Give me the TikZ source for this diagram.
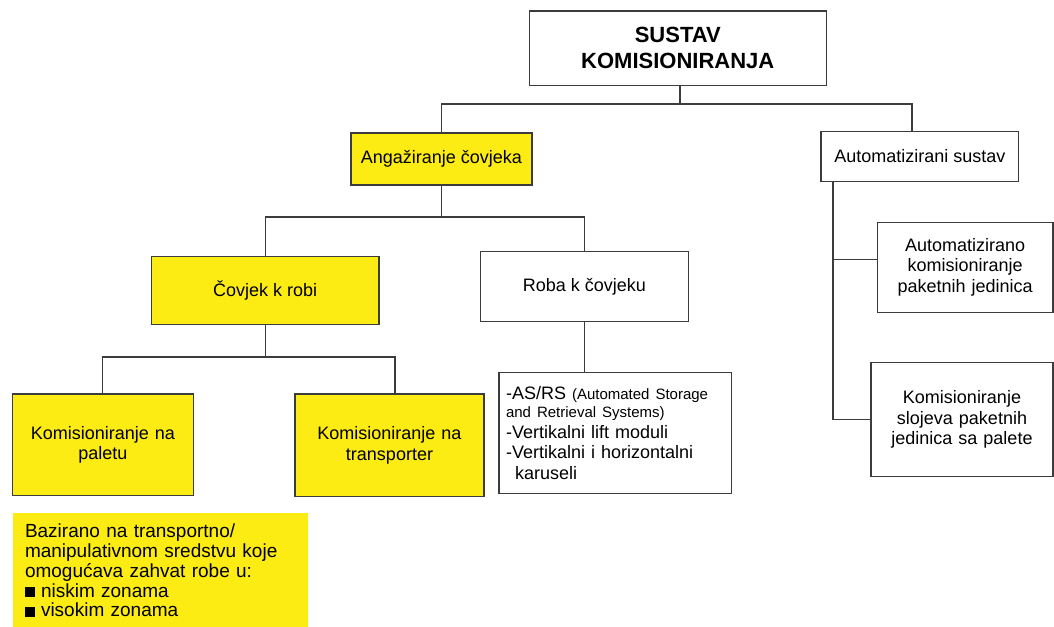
\documentclass[tikz,border=0pt]{standalone}
\usepackage{fontspec}
\setmainfont{Liberation Sans}
\definecolor{linec}{RGB}{60,60,60}
\definecolor{yel}{RGB}{252,236,20}
\newcommand{\fsmain}{\fontsize{18}{20.8}\selectfont}
\newcommand{\fssmall}{\fontsize{15}{18}\selectfont}
\begin{document}
\begin{tikzpicture}[x=1pt,y=-1pt,
  box/.style={draw=linec, line width=1.2pt, rectangle, inner sep=0pt, align=center, font=\fsmain},
  ybox/.style={box, fill=yel},
  conn/.style={draw=linec, line width=1.2pt}]
\useasboundingbox (0,0) rectangle (1054,626);

% nodes
\node[box, minimum width=297pt, minimum height=74.7pt, font=\bfseries\fontsize{22}{26}\selectfont] (top) at (677.8,48.35) {SUSTAV\\KOMISIONIRANJA};
\node[ybox, minimum width=181pt, minimum height=52pt] (ang) at (441.5,159) {Anga\v{z}iranje \v{c}ovjeka};
\node[box, minimum width=197.7pt, minimum height=50.4pt] (auto) at (919.85,156.5) {Automatizirani sustav};
\node[ybox, minimum width=227.6pt, minimum height=68.5pt] (cov) at (265.2,290.5) {\v{C}ovjek k robi};
\node[box, minimum width=207.9pt, minimum height=70pt] (roba) at (584.45,286.7) {Roba k \v{c}ovjeku};
\node[ybox, minimum width=181pt, minimum height=101.5pt, text width=175pt] (pal) at (102.8,444.75) {Komisioniranje na\\paletu};
\node[ybox, minimum width=189pt, minimum height=102.7pt, text width=183pt] (trans) at (389.5,445.35) {Komisioniranje na\\transporter};
\node[box, minimum width=232.6pt, minimum height=120.6pt, text width=218.6pt, align=left, inner xsep=7pt] (asrs) at (615.3,433)
  {-AS/RS {\fssmall (Automated Storage}\\[-2.5pt]{\fssmall and Retrieval Systems)}\\-Vertikalni lift moduli\\-Vertikalni i horizontalni\\\hspace*{9pt}karuseli};
\node[box, minimum width=175.6pt, minimum height=90pt, text width=170pt] (autopak) at (965.2,267.3) {Automatizirano\\komisioniranje\\paketnih jedinica};
\node[box, minimum width=182pt, minimum height=114.4pt, text width=176pt] (slojevi) at (962,419.5) {Komisioniranje\\slojeva paketnih\\jedinica sa palete};
\node[fill=yel, draw=none, rectangle, inner sep=0pt, minimum width=295pt, minimum height=114.3pt, text width=271pt, inner xsep=12pt, align=left, font=\fontsize{19}{19.8}\selectfont] (baz) at (160.5,570.5)
  {Bazirano na transportno/\\manipulativnom sredstvu koje\\omogu\'{c}ava zahvat robe u:\\\rule{10pt}{10pt}\hspace{6pt}niskim zonama\\\rule{10pt}{10pt}\hspace{6pt}visokim zonama};

% connectors
\coordinate (j1) at (680,104);
\coordinate (j1r) at (912,104);
\draw[conn] (top.south -| j1) -- (j1);
\draw[conn] (ang.north) |- (j1r) -- (j1r |- auto.north);

\coordinate (j2) at (0,217);
\draw[conn] (ang.south) -- (ang.south |- j2);
\draw[conn] (cov.north) |- (roba.north |- j2) -- (roba.north);

\coordinate (j3) at (395,357);
\draw[conn] (cov.south) -- (cov.south |- j3);
\draw[conn] (pal.north) |- (j3) -- (j3 |- trans.north);

\draw[conn] (roba.south) -- (roba.south |- asrs.north);

\coordinate (a1) at (833,259.3);
\draw[conn] (a1 |- auto.south) -- (a1 |- slojevi.west) -- (slojevi.west);
\draw[conn] (a1) -- (a1 -| autopak.west);
\end{tikzpicture}
\end{document}
